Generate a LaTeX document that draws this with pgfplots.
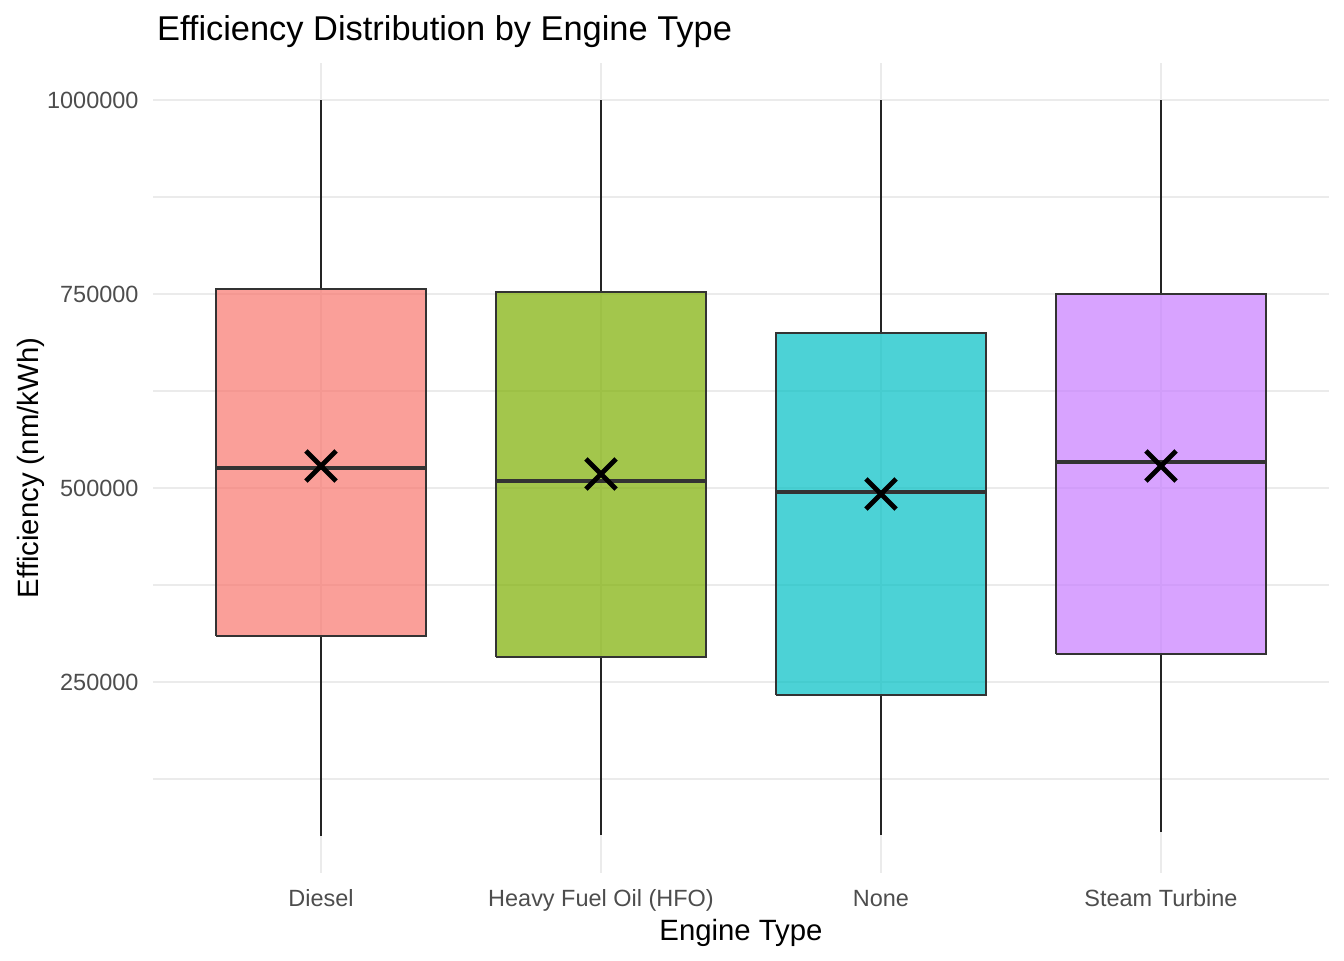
\documentclass[border=0pt]{standalone}
\usepackage{pgfplots}
\pgfplotsset{compat=1.18}
\usepackage{fontspec}
\setmainfont{Liberation Sans}
\definecolor{cDiesel}{HTML}{F8766D}
\definecolor{cHFO}{HTML}{7CAE00}
\definecolor{cNone}{HTML}{00BFC4}
\definecolor{cSteam}{HTML}{C77CFF}
\definecolor{grid92}{HTML}{EBEBEB}
\definecolor{grey30}{HTML}{4D4D4D}
\definecolor{grey20}{HTML}{333333}
\pgfplotsset{
  boxbody/.style={draw=grey20, line width=0.8pt, fill=#1, fill opacity=0.7, draw opacity=1, mark=none, line join=miter},
  whisk/.style={draw=grey20!70!black, line width=0.75pt, mark=none},
  med/.style={draw=grey20, line width=1.8pt, mark=none},
}
\begin{document}
\begin{tikzpicture}
\useasboundingbox (0,0) rectangle (504pt,360pt);
\begin{axis}[
  at={(57.375pt,32.7pt)}, anchor=south west,
  scale only axis, width=441pt, height=303.6pt,
  xmin=0.4, xmax=4.6, ymin=4123, ymax=1047423,
  xtick={1,2,3,4},
  xticklabels={Diesel, Heavy Fuel Oil (HFO), None, Steam Turbine},
  ytick={250000,500000,750000,1000000},
  yticklabels={250000,500000,750000,1000000},
  minor ytick={125000,375000,625000,875000},
  scaled y ticks=false,
  xmajorgrids, ymajorgrids, yminorgrids,
  major grid style={draw=grid92, line width=0.8pt},
  minor grid style={draw=grid92, line width=0.4pt},
  axis line style={draw=none},
  tick style={draw=none},
  major tick length=0pt, minor tick length=0pt,
  ticklabel style={font=\fontsize{8.8}{10}\selectfont, text=grey30, inner sep=0pt},
  xticklabel style={anchor=base, yshift=-12.45pt},
  yticklabel style={anchor=east, xshift=-5.25pt},
  xlabel={Engine Type},
  ylabel={Efficiency (nm/kWh)},
  xlabel style={at={(axis description cs:0.5,-0.083)}, anchor=base, inner sep=0pt, font=\fontsize{11}{13}\selectfont},
  ylabel style={at={(axis description cs:-0.0977,0.5)}, anchor=base, inner sep=0pt, font=\fontsize{11}{13}\selectfont},
  every axis title shift=0pt,
  title={Efficiency Distribution by Engine Type},
  title style={at={(axis description cs:0.003,1.0284)}, anchor=base west, inner sep=0pt, font=\fontsize{12.9}{15}\selectfont},
]
% Diesel: whiskers 51546 / 1000000, Q1 309278, median 525773, Q3 756443
\addplot[whisk] coordinates {(1,51546) (1,309278)};
\addplot[whisk] coordinates {(1,756443) (1,1000000)};
\addplot[boxbody=cDiesel] coordinates {(0.625,309278) (1.375,309278) (1.375,756443) (0.625,756443) (0.625,309278)};
\addplot[med] coordinates {(0.625,525773) (1.375,525773)};
% Heavy Fuel Oil (HFO)
\addplot[whisk] coordinates {(2,52835) (2,282216)};
\addplot[whisk] coordinates {(2,752577) (2,1000000)};
\addplot[boxbody=cHFO] coordinates {(1.625,282216) (2.375,282216) (2.375,752577) (1.625,752577) (1.625,282216)};
\addplot[med] coordinates {(1.625,509020) (2.375,509020)};
% None
\addplot[whisk] coordinates {(3,52835) (3,233247)};
\addplot[whisk] coordinates {(3,699742) (3,1000000)};
\addplot[boxbody=cNone] coordinates {(2.625,233247) (3.375,233247) (3.375,699742) (2.625,699742) (2.625,233247)};
\addplot[med] coordinates {(2.625,494845) (3.375,494845)};
% Steam Turbine
\addplot[whisk] coordinates {(4,56701) (4,286082)};
\addplot[whisk] coordinates {(4,750000) (4,1000000)};
\addplot[boxbody=cSteam] coordinates {(3.625,286082) (4.375,286082) (4.375,750000) (3.625,750000) (3.625,286082)};
\addplot[med] coordinates {(3.625,533505) (4.375,533505)};
% means
\addplot[only marks, mark=x, mark size=8pt, line width=1.8pt, black]
  coordinates {(1,528350) (2,518041) (3,492268) (4,528350)};
\end{axis}
\end{tikzpicture}
\end{document}
